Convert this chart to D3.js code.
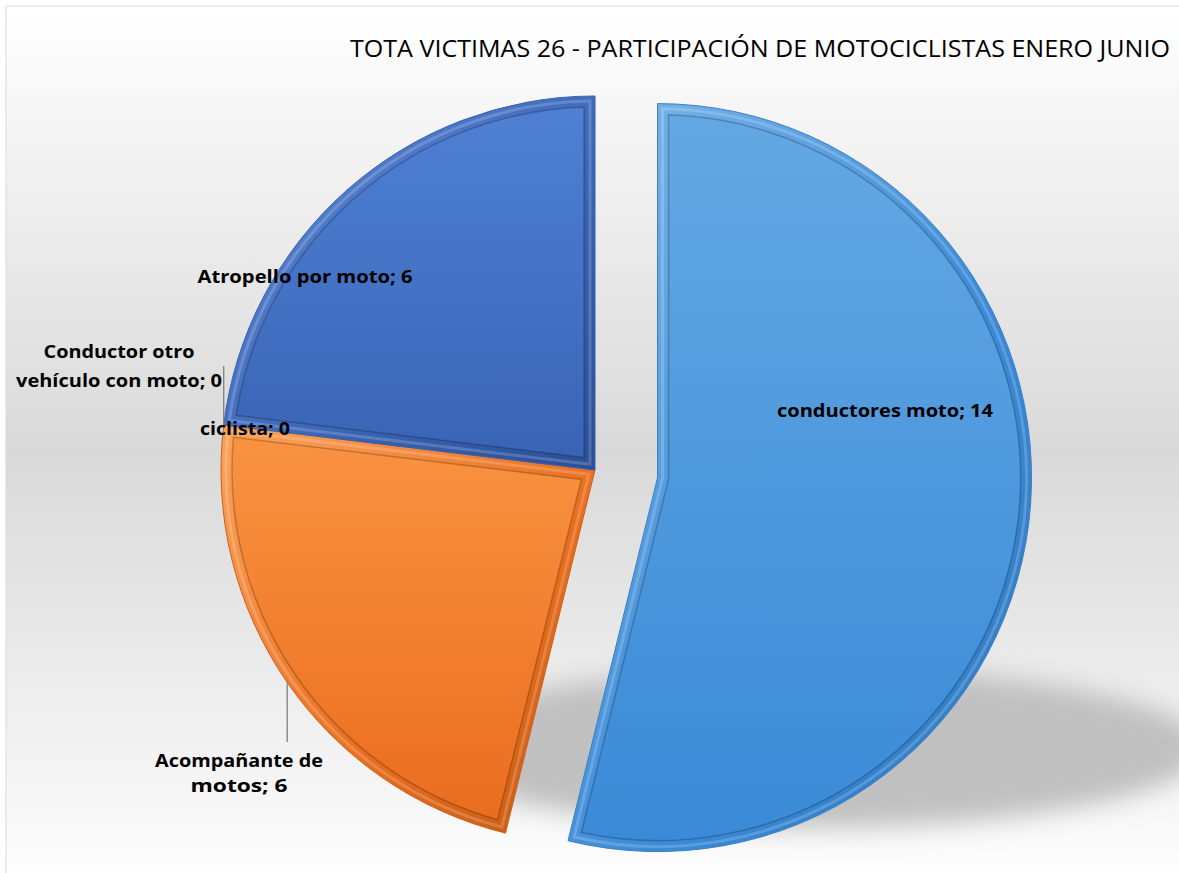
<!DOCTYPE html>
<html><head><meta charset="utf-8">
<script src="https://cdn.jsdelivr.net/npm/d3@7"></script>
<style>html,body{margin:0;padding:0;background:#fff;}svg{display:block;}</style>
</head><body>
<svg id="chart" width="1179" height="873"></svg>
<script>
// ---- data ----
const title = "TOTA VICTIMAS 26 - PARTICIPACIÓN DE MOTOCICLISTAS ENERO JUNIO";
const categories = ["conductores moto", "Acompañante de motos", "ciclista", "Conductor otro vehículo con moto", "Atropello por moto"];
const values = [14, 6, 0, 0, 6];
const labelLines = [["conductores moto; 14"], ["Acompañante de", "motos; 6"], ["ciclista; 0"], ["Conductor otro", "vehículo con moto; 0"], ["Atropello por moto; 6"]];
const exploded = [true, false, false, false, false];

// ---- layout / style ----
const W = 1179, H = 873;
const cx = 595, cy = 470, R = 374, explodeDist = 63;
const palette = [
  {main: ["#63a8e3", "#3a8ad7"], rim: ["#7db8ea", "#2f78bd"], edge: "#3a80c4"},
  {main: ["#f99341", "#ea6d1e"], rim: ["#fba35a", "#c25a14"], edge: "#c8601c"},
  {main: ["#a5a5a5", "#a5a5a5"], rim: ["#c0c0c0", "#808080"], edge: "#808080"},
  {main: ["#ffc000", "#ffc000"], rim: ["#ffd24d", "#c09000"], edge: "#c09000"},
  {main: ["#4e80d4", "#3a64b5"], rim: ["#6590dc", "#2a4f96"], edge: "#3461b0"}
];
// label anchors: offset from pie centre [dx, first baseline dy], target text width per line
const labelLayout = [
  {dx: 290, dy: -53, widths: [216], lh: 29},
  {dx: -356, dy: 297, widths: [168, 97], lh: 25},
  {dx: -350, dy: -35, widths: [90], lh: 25},
  {dx: -476, dy: -112, widths: [151, 206], lh: 29},
  {dx: -290, dy: -187, widths: [215], lh: 25}
];
// leader lines: [slice index, end y relative to label first baseline]
const leaders = [
  {i: 1, endDy: -25},
  {i: 3, endDy: 8}
];

const svg = d3.select("#chart");
const defs = svg.append("defs");

const bg = defs.append("linearGradient").attr("id", "bg").attr("x1", 0).attr("y1", 0).attr("x2", 0).attr("y2", 1);
bg.append("stop").attr("offset", "0%").attr("stop-color", "#ffffff");
bg.append("stop").attr("offset", "50%").attr("stop-color", "#d9d9d9");
bg.append("stop").attr("offset", "100%").attr("stop-color", "#ffffff");

const blur = defs.append("filter").attr("id", "blur").attr("x", "-30%").attr("y", "-60%").attr("width", "160%").attr("height", "220%");
blur.append("feGaussianBlur").attr("stdDeviation", 13);

palette.forEach((p, i) => {
  const g1 = defs.append("linearGradient").attr("id", "main" + i).attr("x1", 0).attr("y1", 0).attr("x2", 0).attr("y2", 1);
  g1.append("stop").attr("offset", "0%").attr("stop-color", p.main[0]);
  g1.append("stop").attr("offset", "100%").attr("stop-color", p.main[1]);
  const g2 = defs.append("linearGradient").attr("id", "rim" + i).attr("x1", 0).attr("y1", 0).attr("x2", 1).attr("y2", 1);
  g2.append("stop").attr("offset", "0%").attr("stop-color", p.rim[0]);
  g2.append("stop").attr("offset", "60%").attr("stop-color", p.main[1]);
  g2.append("stop").attr("offset", "100%").attr("stop-color", p.rim[1]);
});

svg.append("rect").attr("x", 0).attr("y", 0).attr("width", W).attr("height", H).attr("fill", "#ffffff");
svg.append("rect").attr("x", 6).attr("y", 6).attr("width", W + 20).attr("height", H + 20)
  .attr("fill", "url(#bg)").attr("stroke", "#d9d9d9").attr("stroke-width", 1);

// shadow
svg.append("ellipse").attr("cx", cx + 215).attr("cy", cy + 278).attr("rx", 395).attr("ry", 80)
  .attr("fill", "#c0c0c0").attr("filter", "url(#blur)");

// title
svg.append("text").attr("x", 760).attr("y", 57).attr("text-anchor", "middle")
  .attr("font-family", "Open Sans, Noto Sans, sans-serif").attr("font-size", 23).attr("fill", "#000")
  .attr("textLength", 820).attr("lengthAdjust", "spacingAndGlyphs").text(title);

const pie = d3.pie().sort(null).startAngle(0).endAngle(2 * Math.PI)(values);

// inset wedge path: apex offset along bisector, arc radius r-d
function wedge(a0, a1, r, d) {
  const th = a1 - a0;
  const p = d3.path();
  if (th <= 0) return "";
  const mid = (a0 + a1) / 2;
  const t = d > 0 ? d / Math.sin(th / 2) : 0;
  const px = t * Math.sin(mid), py = -t * Math.cos(mid);
  const rr = r - d;
  const dl = d > 0 ? Math.asin(d / rr) : 0;
  const s = a0 + dl, e = a1 - dl;
  p.moveTo(px, py);
  p.lineTo(rr * Math.sin(s), -rr * Math.cos(s));
  p.arc(0, 0, rr, s - Math.PI / 2, e - Math.PI / 2, false);
  p.closePath();
  return p.toString();
}

const slices = svg.append("g").selectAll("g").data(pie).join("g")
  .attr("transform", (d, i) => {
    const mid = (d.startAngle + d.endAngle) / 2;
    const k = exploded[i] ? explodeDist : 0;
    return `translate(${cx + k * Math.sin(mid)},${cy - k * Math.cos(mid)})`;
  });

slices.append("path").attr("d", d => wedge(d.startAngle, d.endAngle, R, 0))
  .attr("fill", (d, i) => `url(#rim${i})`).attr("stroke", (d, i) => palette[i].edge).attr("stroke-width", 1);
slices.append("path").attr("d", d => wedge(d.startAngle, d.endAngle, R, 5))
  .attr("fill", "none").attr("stroke", "#ffffff").attr("stroke-opacity", 0.18).attr("stroke-width", 3);
slices.append("path").attr("d", d => wedge(d.startAngle, d.endAngle, R, 11))
  .attr("fill", (d, i) => `url(#main${i})`).attr("stroke", "#000").attr("stroke-opacity", 0.22).attr("stroke-width", 1.5);

// leader lines
leaders.forEach(l => {
  const d = pie[l.i];
  const mid = (d.startAngle + d.endAngle) / 2;
  const x = cx + R * Math.sin(mid), y = cy - R * Math.cos(mid);
  const ly = cy + labelLayout[l.i].dy + l.endDy;
  svg.append("line").attr("x1", x).attr("y1", y).attr("x2", x).attr("y2", ly)
    .attr("stroke", "#7f7f7f").attr("stroke-width", 1.3);
});

// labels
const labels = svg.append("g").attr("font-family", "Open Sans, Noto Sans, sans-serif")
  .attr("font-weight", "bold").attr("font-size", 18.5).attr("fill", "#000").attr("text-anchor", "middle");
labelLines.forEach((lines, i) => {
  const L = labelLayout[i];
  lines.forEach((txt, j) => {
    labels.append("text").attr("x", cx + L.dx).attr("y", cy + L.dy + j * L.lh)
      .attr("textLength", L.widths[j]).attr("lengthAdjust", "spacingAndGlyphs").text(txt);
  });
});
</script>
</body></html>
